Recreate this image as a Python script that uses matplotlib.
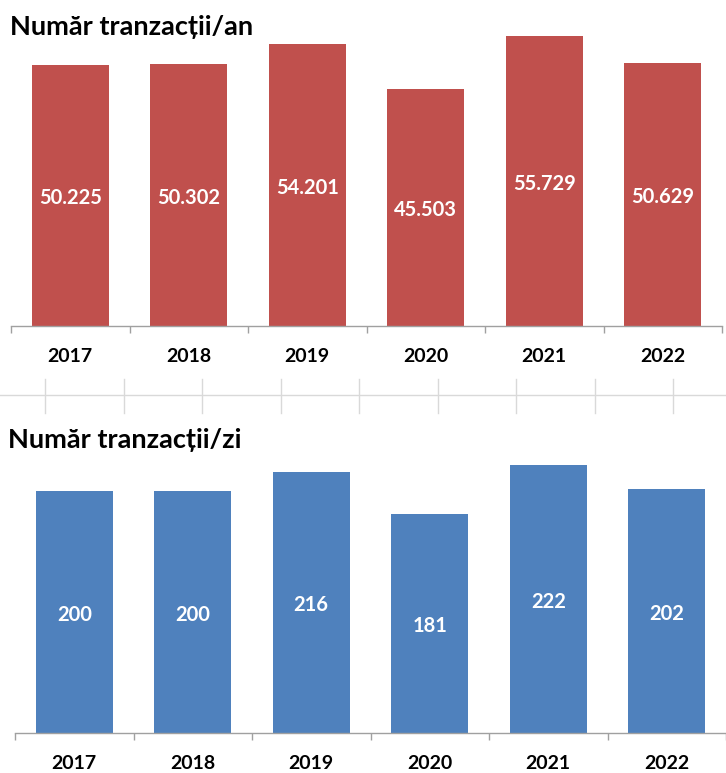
import matplotlib
matplotlib.use("Agg")
import matplotlib.pyplot as plt
import numpy as np
from matplotlib.lines import Line2D

years = ["2017", "2018", "2019", "2020", "2021", "2022"]
tranzactii_an = [50225, 50302, 54201, 45503, 55729, 50629]
etichete_an = ["50.225", "50.302", "54.201", "45.503", "55.729", "50.629"]
tranzactii_zi = [200, 200, 216, 181, 222, 202]
etichete_zi = ["200", "200", "216", "181", "222", "202"]

RED = "#C0504D"
BLUE = "#4F81BD"
AXIS_GREY = "#A0A0A0"
GRID_GREY = "#D9D9D9"
W, H = 726, 773

plt.rcParams["font.family"] = ["Lato", "DejaVu Sans"]


def px_box(x0, y0, x1, y1):
    # pixel box (origin top-left) -> figure fraction [left, bottom, width, height]
    return [x0 / W, 1 - y1 / H, (x1 - x0) / W, (y1 - y0) / H]


def bar_panel(ax, values, labels, color, ymax):
    n = len(values)
    x = np.arange(n)
    bars = ax.bar(x, values, width=0.65, color=color)
    ax.bar_label(bars, labels=labels, label_type="center", color="white",
                 fontsize=14.5, fontweight="bold", padding=-2)
    ax.set_xlim(-0.5, n - 0.5)
    ax.set_ylim(0, ymax)
    ax.set_xticks(x)
    ax.set_xticklabels(years, fontsize=14, fontweight="bold")
    ax.set_xticks(np.arange(-0.5, n), minor=True)
    ax.tick_params(axis="x", which="major", length=0, pad=16)
    ax.tick_params(axis="x", which="minor", length=5, width=1, color=AXIS_GREY)
    ax.set_yticks([])
    for s in ("left", "right", "top"):
        ax.spines[s].set_visible(False)
    ax.spines["bottom"].set_color(AXIS_GREY)
    ax.spines["bottom"].set_linewidth(1)
    ax.patch.set_alpha(0)


fig = plt.figure(figsize=(W / 100, H / 100), dpi=100)

ax1 = fig.add_axes(px_box(11, 14, 722, 326))
bar_panel(ax1, tranzactii_an, etichete_an, RED, 60000)

ax2 = fig.add_axes(px_box(15, 431, 726, 733))
bar_panel(ax2, tranzactii_zi, etichete_zi, BLUE, 250)

fig.text(10 / W, 1 - 27 / H, "Număr tranzacții/an", va="center", ha="left",
         fontsize=19.5, fontweight="bold")
fig.text(8 / W, 1 - 440 / H, "Număr tranzacții/zi", va="center", ha="left",
         fontsize=19.5, fontweight="bold")

# faint leftover grid fragment between the two charts
fig.add_artist(Line2D([0, 1], [1 - 395 / H] * 2, color=GRID_GREY, lw=1))
for i in range(9):
    xv = (45 + i * 78.5) / W
    fig.add_artist(Line2D([xv, xv], [1 - 379 / H, 1 - 413 / H], color=GRID_GREY, lw=1))

fig.savefig("out.png", dpi=100)
